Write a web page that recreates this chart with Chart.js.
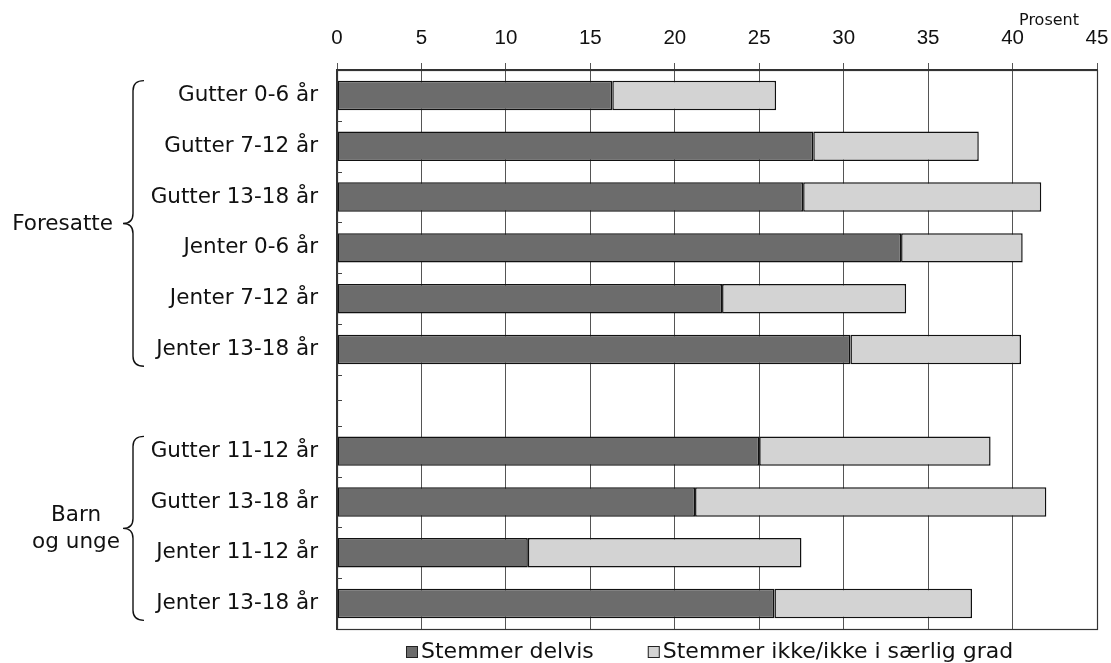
<!DOCTYPE html>
<html>
<head>
<meta charset="utf-8">
<script src="https://cdn.jsdelivr.net/npm/chart.js@4"></script>
<style>
  html, body { margin: 0; padding: 0; background: #fff; }
  #wrap { width: 1111px; height: 663px; }
</style>
</head>
<body>
<div id="wrap"><canvas id="c" width="1111" height="663"></canvas></div>
<script>
// ---- data ----
const categories = ['Gutter 0-6 år', 'Gutter 7-12 år', 'Gutter 13-18 år', 'Jenter 0-6 år', 'Jenter 7-12 år', 'Jenter 13-18 år', '', 'Gutter 11-12 år', 'Gutter 13-18 år', 'Jenter 11-12 år', 'Jenter 13-18 år'];
const stemmerDelvis = [16.3, 28.2, 27.6, 33.4, 22.8, 30.4, null, 25.0, 21.2, 11.3, 25.9];
const stemmerIkke = [9.7, 9.8, 14.1, 7.2, 10.9, 10.1, null, 13.7, 20.8, 16.2, 11.7];
const seriesNames = ['Stemmer delvis', 'Stemmer ikke/ikke i særlig grad'];
const xTickValues = [0, 5, 10, 15, 20, 25, 30, 35, 40, 45];
const axisUnit = 'Prosent';
const groupNames = [['Foresatte'], ['Barn', 'og unge']];
const groupRanges = [[0, 5], [7, 10]];

const LABEL_FONT = '21.5px "DejaVu Sans", Verdana, sans-serif';
const darkFill = '#6c6c6c';
const lightFill = '#d3d3d3';

const decor = {
  id: 'decor',
  afterDraw(chart) {
    const ctx = chart.ctx;
    const a = chart.chartArea;
    const y = chart.scales.y;
    const x = chart.scales.x;
    ctx.save();
    // box
    ctx.strokeStyle = '#333';
    ctx.lineWidth = 1.2;
    ctx.strokeRect(a.left + 0.5, a.top + 0.5, a.right - a.left, a.bottom - a.top);
    // left minor ticks at category boundaries (and inside the blank slot)
    const n = categories.length;
    const slot = (a.bottom - a.top) / n;
    ctx.strokeStyle = '#444';
    ctx.lineWidth = 1;
    for (let i = 1; i < n; i++) {
      const py = Math.round(y.getPixelForValue(i) - slot / 2) + 0.5;
      ctx.beginPath(); ctx.moveTo(a.left, py); ctx.lineTo(a.left + 5, py); ctx.stroke();
    }
    categories.forEach((c, i) => {
      if (c === '') {
        const py = Math.round(y.getPixelForValue(i)) + 0.5;
        ctx.beginPath(); ctx.moveTo(a.left, py); ctx.lineTo(a.left + 5, py); ctx.stroke();
      }
    });
    // unit label
    ctx.fillStyle = '#111';
    ctx.font = '16px "DejaVu Sans", Verdana, sans-serif';
    ctx.textAlign = 'right';
    ctx.textBaseline = 'middle';
    ctx.fillText(axisUnit, x.getPixelForValue(45) - 18, 21);
    // braces + group labels
    ctx.strokeStyle = '#111';
    ctx.lineWidth = 1.4;
    groupRanges.forEach((r, gi) => {
      const top = y.getPixelForValue(r[0]) - slot * 0.29;
      const bot = y.getPixelForValue(r[1]) + slot * 0.33;
      const mid = (top + bot) / 2;
      const xe = 144, xv = 133, xt = 123, k = 10;
      ctx.beginPath();
      ctx.moveTo(xe, top);
      ctx.quadraticCurveTo(xv, top, xv, top + k);
      ctx.lineTo(xv, mid - k);
      ctx.quadraticCurveTo(xv, mid, xt, mid);
      ctx.quadraticCurveTo(xv, mid, xv, mid + k);
      ctx.lineTo(xv, bot - k);
      ctx.quadraticCurveTo(xv, bot, xe, bot);
      ctx.stroke();
      const lines = groupNames[gi];
      ctx.font = LABEL_FONT;
      ctx.fillStyle = '#111';
      ctx.textBaseline = 'middle';
      if (lines.length === 1) {
        ctx.textAlign = 'right';
        ctx.fillText(lines[0], 113, mid + 1);
      } else {
        ctx.textAlign = 'center';
        const lh = 27;
        lines.forEach((t, li) => {
          ctx.fillText(t, 76, mid + 1 + (li - (lines.length - 1) / 2) * lh);
        });
      }
    });
    // legend
    ctx.font = '22px "DejaVu Sans", Verdana, sans-serif';
    ctx.textAlign = 'left';
    ctx.textBaseline = 'middle';
    const ly = 652;
    let lx = 406;
    chart.data.datasets.forEach((ds, i) => {
      ctx.fillStyle = ds.backgroundColor;
      ctx.fillRect(lx, ly - 6, 12, 12);
      ctx.strokeStyle = '#222';
      ctx.lineWidth = 1;
      ctx.strokeRect(lx + 0.5, ly - 5.5, 11, 11);
      ctx.fillStyle = '#111';
      ctx.fillText(ds.label, lx + 15, ly);
      lx += 15 + ctx.measureText(ds.label).width + 54;
    });
    ctx.restore();
  }
};

new Chart(document.getElementById('c'), {
  type: 'bar',
  data: {
    labels: categories,
    datasets: [
      { label: seriesNames[0], data: stemmerDelvis, backgroundColor: darkFill, borderColor: '#111', borderWidth: 1.5, borderSkipped: false },
      { label: seriesNames[1], data: stemmerIkke, backgroundColor: lightFill, borderColor: '#111', borderWidth: 1.5, borderSkipped: false }
    ]
  },
  options: {
    indexAxis: 'y',
    responsive: false,
    animation: false,
    devicePixelRatio: 1,
    barPercentage: 0.58,
    categoryPercentage: 1,
    layout: { padding: { left: 0, right: 14, top: 0, bottom: 34 } },
    plugins: { legend: { display: false }, tooltip: { enabled: false }, title: { display: false } },
    scales: {
      x: {
        position: 'top',
        stacked: true,
        min: 0, max: 45,
        afterBuildTicks(scale) { scale.ticks = xTickValues.map(v => ({ value: v })); },
        afterFit(scale) { scale.height = 70; scale.paddingRight = 0; scale.paddingLeft = 0; },
        ticks: { color: '#111', font: { family: '"Liberation Sans", Arial, sans-serif', size: 20.5 }, padding: 12, maxRotation: 0 },
        grid: { color: '#555', lineWidth: 1, tickLength: 7, drawOnChartArea: true },
        border: { display: true, color: '#333', width: 1.2 }
      },
      y: {
        stacked: true,
        afterFit(scale) { scale.width = 337; },
        ticks: { color: '#111', font: { family: '"DejaVu Sans", Verdana, sans-serif', size: 21.5 }, padding: 19, autoSkip: false },
        grid: { display: false, drawTicks: false, tickLength: 0 },
        border: { display: true, color: '#333', width: 1.2 }
      }
    }
  },
  plugins: [decor]
});
</script>
</body>
</html>
